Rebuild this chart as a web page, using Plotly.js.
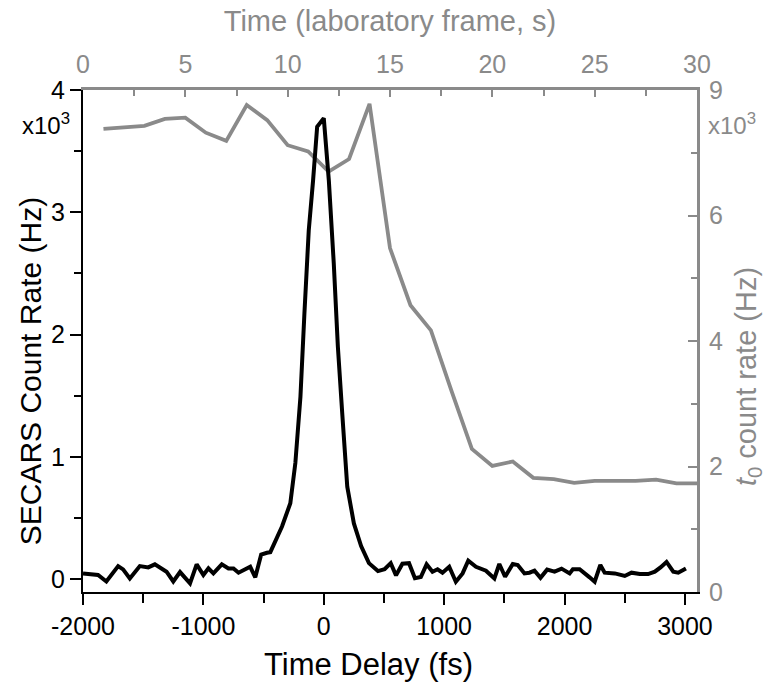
<!DOCTYPE html>
<html>
<head>
<meta charset="utf-8">
<script src="https://cdn.plot.ly/plotly-3.0.1.min.js"></script>
<style>html,body{margin:0;padding:0;background:#fff;}#chart{width:769px;height:688px;}</style>
</head>
<body>
<div id="chart"></div>
<script>
// SECARS count rate (x10^3 Hz) vs time delay (fs)
const delayFs = [-2000,-1917,-1875,-1806,-1708,-1667,-1611,-1528,-1458,-1403,-1347,-1306,-1250,-1194,-1111,-1056,-1000,-958,-917,-847,-792,-750,-708,-611,-569,-520,-472,-444,
  -347,-278,-236,-194,-161,-125,-89,-55,0,42,83,117,153,195,250,310,375,450,505,556,600,653,708,757,806,854,903,945,986,1042,1097,1153,1200,1264,1347,1417,1458,1506,1570,1611,1667,1708,1750,1800,1855,1917,1975,2042,2069,2125,2208,2250,2297,2333,2417,2500,2556,2625,2694,2750,2797,2847,2903,2944,3008];
const secarsRate = [0.046,0.041,0.033,-0.02,0.106,0.079,0.005,0.106,0.095,0.12,0.08,0.06,-0.02,0.057,-0.035,0.12,0.033,0.087,0.046,0.12,0.087,0.087,0.052,0.10,0.014,0.20,0.215,0.22,
  0.43,0.62,0.95,1.49,2.17,2.85,3.26,3.70,3.77,3.26,2.58,1.90,1.36,0.755,0.455,0.27,0.13,0.065,0.08,0.13,0.03,0.125,0.13,0.006,0.016,0.12,0.06,0.08,0.052,0.10,-0.022,0.046,0.15,0.10,0.068,0.005,0.123,0.019,0.123,0.115,0.046,0.052,0.068,0.01,0.077,0.06,0.085,0.046,0.08,0.08,0.014,-0.022,0.115,0.052,0.046,0.025,0.052,0.041,0.041,0.06,0.095,0.14,0.06,0.052,0.087];

// t0 count rate (x10^3 Hz) vs laboratory time (s)
const labTimeS = [1,2,3,4,5,6,7,8,9,10,11,12,13,14,15,16,17,18,19,20,21,22,23,24,25,26,27,28,29,30];
const t0Rate = [7.38,7.41,7.43,7.54,7.56,7.32,7.19,7.76,7.52,7.12,7.02,6.70,6.90,7.78,5.48,4.57,4.17,3.21,2.28,2.01,2.08,1.82,1.80,1.74,1.77,1.77,1.77,1.79,1.73,1.73];

// tick labels
const bottomTickVals = [-2000,-1000,0,1000,2000,3000];
const bottomTickText = ['-2000','-1000','0','1000','2000','3000'];
const leftTickVals = [0,1,2,3,4];
const leftTickText = ['0','1','2','3','4'];
const topTickVals = [0,5,10,15,20,25,30];
const topTickText = ['0','5','10','15','20','25','30'];
const rightTickVals = [0,2,4,6,8];
const rightTickText = ['0','2','4','6','9'];

// titles
const bottomTitle = 'Time Delay (fs)';
const topTitle = 'Time (laboratory frame, s)';
const leftTitle = 'SECARS Count Rate (Hz)';
const rightTitle = '<i>t</i><sub>0</sub> count rate (Hz)';
const multiplier = 'x10<sup>3</sup>';

const GRAY = '#8a8a8a';
const FONT = 'Liberation Sans, Arial, sans-serif';

const traces = [
  {x: labTimeS, y: t0Rate, xaxis: 'x', yaxis: 'y', type: 'scatter', mode: 'lines',
   line: {color: GRAY, width: 3.8}, hoverinfo: 'skip'},
  {x: delayFs, y: secarsRate, xaxis: 'x2', yaxis: 'y2', type: 'scatter', mode: 'lines',
   line: {color: '#000', width: 4}, hoverinfo: 'skip'}
];

const layout = {
  width: 769, height: 688,
  margin: {l: 83, r: 72, t: 90, b: 96, pad: 0},
  paper_bgcolor: '#fff', plot_bgcolor: '#fff',
  showlegend: false,
  font: {family: FONT, size: 25, color: '#000'},
  // top axis: laboratory time
  xaxis: {
    side: 'top', anchor: 'y', range: [0, 30], tickmode: 'array',
    tickvals: topTickVals, ticktext: topTickText,
    ticks: 'inside', ticklen: 7, tickwidth: 2, tickcolor: GRAY,
    minor: {tickmode: 'linear', tick0: 0, dtick: 2.5, ticks: 'inside', ticklen: 6, tickwidth: 2, tickcolor: GRAY},
    showline: true, linecolor: GRAY, linewidth: 3, showgrid: false, zeroline: false,
    tickfont: {family: FONT, size: 25, color: GRAY}, ticklabelstandoff: 4,
    title: {text: topTitle, font: {family: FONT, size: 29, color: GRAY}, standoff: 10}
  },
  // right axis: t0 count rate
  yaxis: {
    side: 'right', anchor: 'x', range: [0, 8], tickmode: 'array',
    tickvals: rightTickVals, ticktext: rightTickText,
    ticks: 'inside', ticklen: 9, tickwidth: 2, tickcolor: GRAY,
    minor: {tickmode: 'linear', tick0: 0, dtick: 1, ticks: 'inside', ticklen: 6, tickwidth: 2, tickcolor: GRAY},
    showline: true, linecolor: GRAY, linewidth: 3, showgrid: false, zeroline: false,
    tickfont: {family: FONT, size: 25, color: GRAY}, ticklabelstandoff: 4
  },
  // bottom axis: time delay
  xaxis2: {
    overlaying: 'x', side: 'bottom', anchor: 'y2', range: [-2000, 3100], tickmode: 'array',
    tickvals: bottomTickVals, ticktext: bottomTickText,
    ticks: 'outside', ticklen: 11, tickwidth: 2, tickcolor: '#000',
    minor: {tickmode: 'linear', tick0: -2000, dtick: 500, ticks: 'outside', ticklen: 9, tickwidth: 2, tickcolor: '#000'},
    showline: true, linecolor: '#000', linewidth: 2, showgrid: false, zeroline: false,
    tickfont: {family: FONT, size: 25, color: '#000'}
  },
  // left axis: SECARS count rate
  yaxis2: {
    overlaying: 'y', side: 'left', anchor: 'x2', range: [-0.106, 4], tickmode: 'array',
    tickvals: leftTickVals, ticktext: leftTickText,
    ticks: 'outside', ticklen: 11, tickwidth: 2, tickcolor: '#000',
    minor: {tickmode: 'linear', tick0: 0, dtick: 0.5, ticks: 'outside', ticklen: 7, tickwidth: 2, tickcolor: '#000'},
    showline: true, linecolor: '#000', linewidth: 2, showgrid: false, zeroline: false,
    tickfont: {family: FONT, size: 25, color: '#000'}
  },
  annotations: [
    {xref: 'paper', yref: 'paper', x: 0.465, y: -0.145, xanchor: 'center', yanchor: 'middle',
     text: bottomTitle, showarrow: false, font: {family: FONT, size: 31, color: '#000'}},
    {xref: 'paper', yref: 'paper', x: -0.086, y: 0.44, xanchor: 'center', yanchor: 'middle', textangle: -90,
     text: leftTitle, showarrow: false, font: {family: FONT, size: 30, color: '#000'}},
    {xref: 'paper', yref: 'paper', x: 1.083, y: 0.43, xanchor: 'center', yanchor: 'middle', textangle: -90,
     text: rightTitle, showarrow: false, font: {family: FONT, size: 29, color: GRAY}},
    {xref: 'paper', yref: 'paper', x: -0.06, y: 0.932, xanchor: 'center', yanchor: 'middle',
     text: multiplier, showarrow: false, font: {family: FONT, size: 24, color: '#000'}},
    {xref: 'paper', yref: 'paper', x: 1.057, y: 0.932, xanchor: 'center', yanchor: 'middle',
     text: multiplier, showarrow: false, font: {family: FONT, size: 24, color: GRAY}}
  ]
};

Plotly.newPlot('chart', traces, layout, {staticPlot: true, displayModeBar: false});
</script>
</body>
</html>
